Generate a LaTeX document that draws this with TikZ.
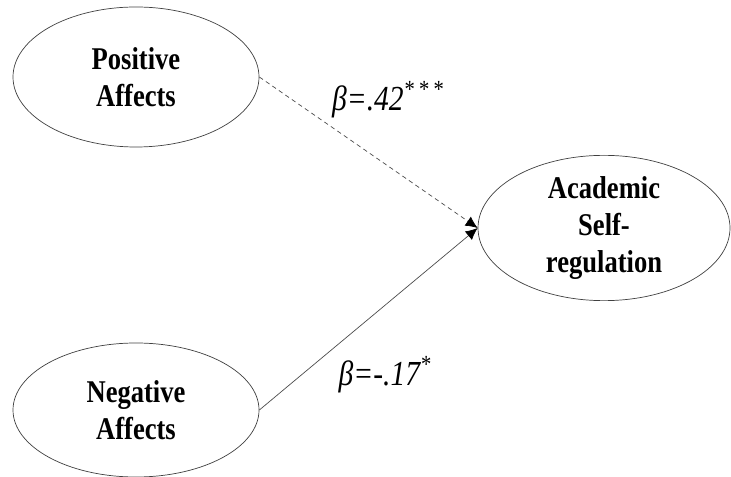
\documentclass[tikz,border=0pt]{standalone}
\usepackage{fontspec}
\setmainfont[FakeStretch=0.84]{Liberation Serif}
\usetikzlibrary{shapes.geometric,arrows.meta}

\begin{document}
\begin{tikzpicture}[
	latent/.style={ellipse, draw=black!75, thin, inner sep=0pt, align=center,
		font=\fontsize{18}{21}\selectfont\bfseries},
	path/.style={draw=black!70, thin, -{Latex[length=0.24cm,width=0.22cm,black]}},
	coef/.style={font=\fontsize{20}{22}\selectfont\itshape, inner sep=0pt}]
	\useasboundingbox (0,0) rectangle (14.62,-9.54);

	\node[latent, minimum width=4.92cm, minimum height=2.8cm] (pos) at (2.72,-1.54) {Positive\\Affects};
	\node[latent, minimum width=4.92cm, minimum height=2.68cm] (neg) at (2.72,-8.2) {Negative\\Affects};
	\node[latent, minimum width=5.04cm, minimum height=2.78cm] (asr) at (12.08,-4.56) {Academic\\Self-\\regulation};

	\draw[path, dash pattern=on 2.5pt off 2pt] (pos.east) -- (asr.west);
	\draw[path] (neg.east) -- (asr.west);

	\node[coef] (bpos) at (7.76,-2.0) {β=.42\textsuperscript{*\,*\,*}};
	\node[coef] (bneg) at (7.7,-7.5) {β=-.17\textsuperscript{*}};
\end{tikzpicture}
\end{document}
